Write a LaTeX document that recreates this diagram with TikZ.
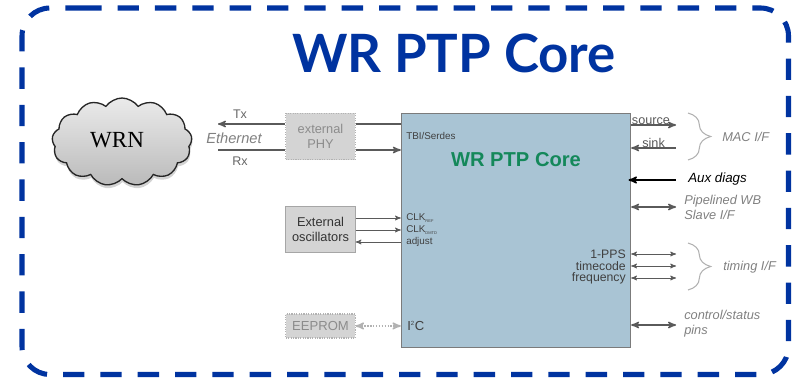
\documentclass[tikz,border=0pt]{standalone}
\usepackage{fontspec}
\setmainfont{Liberation Sans}
\newfontfamily\titlefont{Lato}
\newfontfamily\cloudfont{Liberation Serif}
\usepackage{tikz}
\usetikzlibrary{arrows,positioning,shapes,shapes.symbols,shadows,decorations.pathreplacing}
\definecolor{frameBlue}{HTML}{0033A0}
\definecolor{coreBlue}{HTML}{A9C4D4}
\definecolor{coreGreen}{HTML}{14885A}
\definecolor{labelGray}{HTML}{808080}
\definecolor{lineGray}{HTML}{5A5A5A}

\begin{document}
\begin{tikzpicture}
[ x=0.75pt, y=-0.75pt,
		core/.style={rectangle,draw=lineGray!80,line width=0.8pt,fill=coreBlue,minimum width=172pt,minimum height=176pt},
		block/.style={rectangle,draw=black!35,fill=black!17,line width=0.8pt,minimum width=52pt,text width=50pt,align=center,font=\fontsize{9.6}{10.8}\selectfont,inner sep=0pt},
		extra/.style={block,draw=black!30,densely dotted,fill=black!17,text=black!45},
		label/.style={text=labelGray,font=\fontsize{9.6}{11.25}\selectfont\itshape,align=left,inner sep=0pt},
		pin/.style={text=black!75,font=\fontsize{7.4}{9}\selectfont,inner sep=0pt},
		port/.style={text=black!65,font=\fontsize{9.5}{10}\selectfont,inner sep=0pt},
		arrowOut/.style={->,>=stealth',line width=1.1pt,draw=lineGray},
		arrowIn/.style={<-,>=stealth',line width=1.1pt,draw=lineGray},
		arrowBoth/.style={<->,>=stealth',line width=1.1pt,draw=lineGray},
		arrowThin/.style={<->,>=stealth',line width=0.6pt,draw=lineGray},
		brace/.style={decorate,decoration={brace,amplitude=17pt},draw=black!30,line width=0.8pt}]

	\useasboundingbox (0,0) rectangle (792,378);

	\draw[frameBlue,line width=3.8pt,dash pattern=on 16pt off 12pt,rounded corners=21pt] (80.33,8) -- (788.5,8) -- (788.5,374.5) -- (22,374.5) -- (22,8) -- (80.33,8);
	\node[text=frameBlue,font=\titlefont\bfseries\fontsize{39.6}{44}\selectfont,inner sep=0pt] (title) at (454,53) {WR PTP Core};

	\node[cloud,cloud puffs=13,cloud puff arc=110,aspect=1.6,draw=black!85,line width=1pt,top color=black!8,bottom color=black!27,drop shadow={opacity=0.35,shadow xshift=0.5pt,shadow yshift=-2.5pt},minimum width=105pt,minimum height=66pt,inner sep=0pt] (wrn) at (122,142) {};
	\node[font=\cloudfont\fontsize{17.3}{20}\selectfont,inner sep=0pt] (wrnlabel) at (117,140) {WRN};

	\node[core] (wrcore) at (516,230.5) {};
	\node[text=coreGreen,font=\bfseries\fontsize{15.1}{18}\selectfont,inner sep=0pt] (coretitle) at (516,160) {WR PTP Core};

	\node[extra,minimum height=35pt,font=\fontsize{9.6}{11}\selectfont] (phy) at (320.5,136.5) {external\\PHY};
	\node[block,minimum height=35pt,text=black!80,below=34pt of phy] (osc) {External\\oscillators};
	\node[extra,minimum height=18pt,font=\fontsize{9.8}{11}\selectfont,below=45pt of osc] (eeprom) {EEPROM};

	% ethernet side
	\coordinate (txEnd) at (218,124);
	\coordinate (rxEnd) at (218,150);
	\node[text=black!60,font=\fontsize{9.4}{11}\selectfont,inner sep=0pt] (tx) at (240,114) {Tx};
	\node[text=black!60,font=\fontsize{9.4}{11}\selectfont,inner sep=0pt] (rx) at (240,161) {Rx};
	\node[text=labelGray,font=\fontsize{11}{13}\selectfont\itshape,inner sep=0pt] (ethernet) at (234,138) {Ethernet};
	\draw[arrowIn] (txEnd) -- (phy.west |- txEnd);
	\draw[line width=1.1pt,draw=lineGray] (rxEnd) -- (phy.west |- rxEnd);
	\draw[line width=1.1pt,draw=lineGray] (phy.east |- txEnd) -- (wrcore.west |- txEnd);
	\draw[arrowOut] (phy.east |- rxEnd) -- (wrcore.west |- rxEnd);

	% pins inside the core
	\node[pin,anchor=west] (tbi) at (406,136) {TBI/Serdes};
	\node[pin,anchor=west] (clkref) at (406,218) {CLK\textsubscript{\fontsize{3}{3}\selectfont REF}};
	\node[pin,anchor=west] (clkdmtd) at (406,230) {CLK\textsubscript{\fontsize{3}{3}\selectfont DMTD}};
	\node[pin,anchor=west] (adjust) at (406,242) {adjust};
	\node[pin,anchor=west,font=\fontsize{9.8}{11}\selectfont] (i2c) at (407,326) {I\textsuperscript{\fontsize{4.5}{5}\selectfont 2}C};
	\node[pin,anchor=east,font=\fontsize{9.2}{10}\selectfont] (pps) at (626,254) {1-PPS};
	\node[pin,anchor=east,font=\fontsize{9.2}{10}\selectfont] (timecode) at (626,266) {timecode};
	\node[pin,anchor=east,font=\fontsize{9.2}{10}\selectfont] (frequency) at (626,278) {frequency};

	% oscillators and eeprom
	\draw[->,>=stealth',semithick,draw=lineGray] (osc.east |- clkref) -- (wrcore.west |- clkref);
	\draw[->,>=stealth',semithick,draw=lineGray] (osc.east |- clkdmtd) -- (wrcore.west |- clkdmtd);
	\draw[<-,>=stealth',semithick,draw=lineGray] (osc.east |- adjust) -- (wrcore.west |- adjust);
	\draw[<->,>=stealth',densely dotted,line width=1.2pt,draw=black!30] (eeprom) -- (wrcore.west |- eeprom);

	% right side
	\coordinate (sourceEnd) at (676,125);
	\coordinate (sinkEnd) at (676,148);
	\coordinate (auxEnd) at (676,180);
	\coordinate (wbEnd) at (676,207);
	\coordinate (ppsEnd) at (676,254);
	\coordinate (timecodeEnd) at (676,266);
	\coordinate (frequencyEnd) at (676,278);
	\coordinate (ctrlEnd) at (676,325);
	\draw[arrowOut] (wrcore.east |- sourceEnd) -- node[port,above=0pt,xshift=-2pt] (source) {source} (sourceEnd);
	\draw[arrowIn] (wrcore.east |- sinkEnd) -- node[port,above=0pt] (sink) {sink} (sinkEnd);
	\draw[<-,>=stealth',line width=1.2pt] ([xshift=-2pt]wrcore.east |- auxEnd) -- (auxEnd);
	\draw[arrowBoth] (wrcore.east |- wbEnd) -- (wbEnd);
	\draw[arrowThin] (wrcore.east |- ppsEnd) -- (ppsEnd);
	\draw[arrowThin] (wrcore.east |- timecodeEnd) -- (timecodeEnd);
	\draw[arrowThin] (wrcore.east |- frequencyEnd) -- (frequencyEnd);
	\draw[arrowBoth] (wrcore.east |- ctrlEnd) -- (ctrlEnd);

	\coordinate (macTop) at (688,113);
	\coordinate (macBottom) at (688,160);
	\coordinate (timingTop) at (688,243);
	\coordinate (timingBottom) at (688,290);
	\draw[brace] (macTop) -- (macBottom);
	\draw[brace] (timingTop) -- (timingBottom);

	\node[label,anchor=west] (mac) at (722,137) {MAC I/F};
	\node[label,anchor=west,text=black,font=\fontsize{10}{12}\selectfont\itshape] (aux) at (688,179) {Aux diags};
	\node[label,anchor=west] (wb) at (684,207) {Pipelined WB\\Slave I/F};
	\node[label,anchor=west] (timing) at (723,267) {timing I/F};
	\node[label,anchor=west] (ctrl) at (684,324) {control/status\\pins};
\end{tikzpicture}
\end{document}
